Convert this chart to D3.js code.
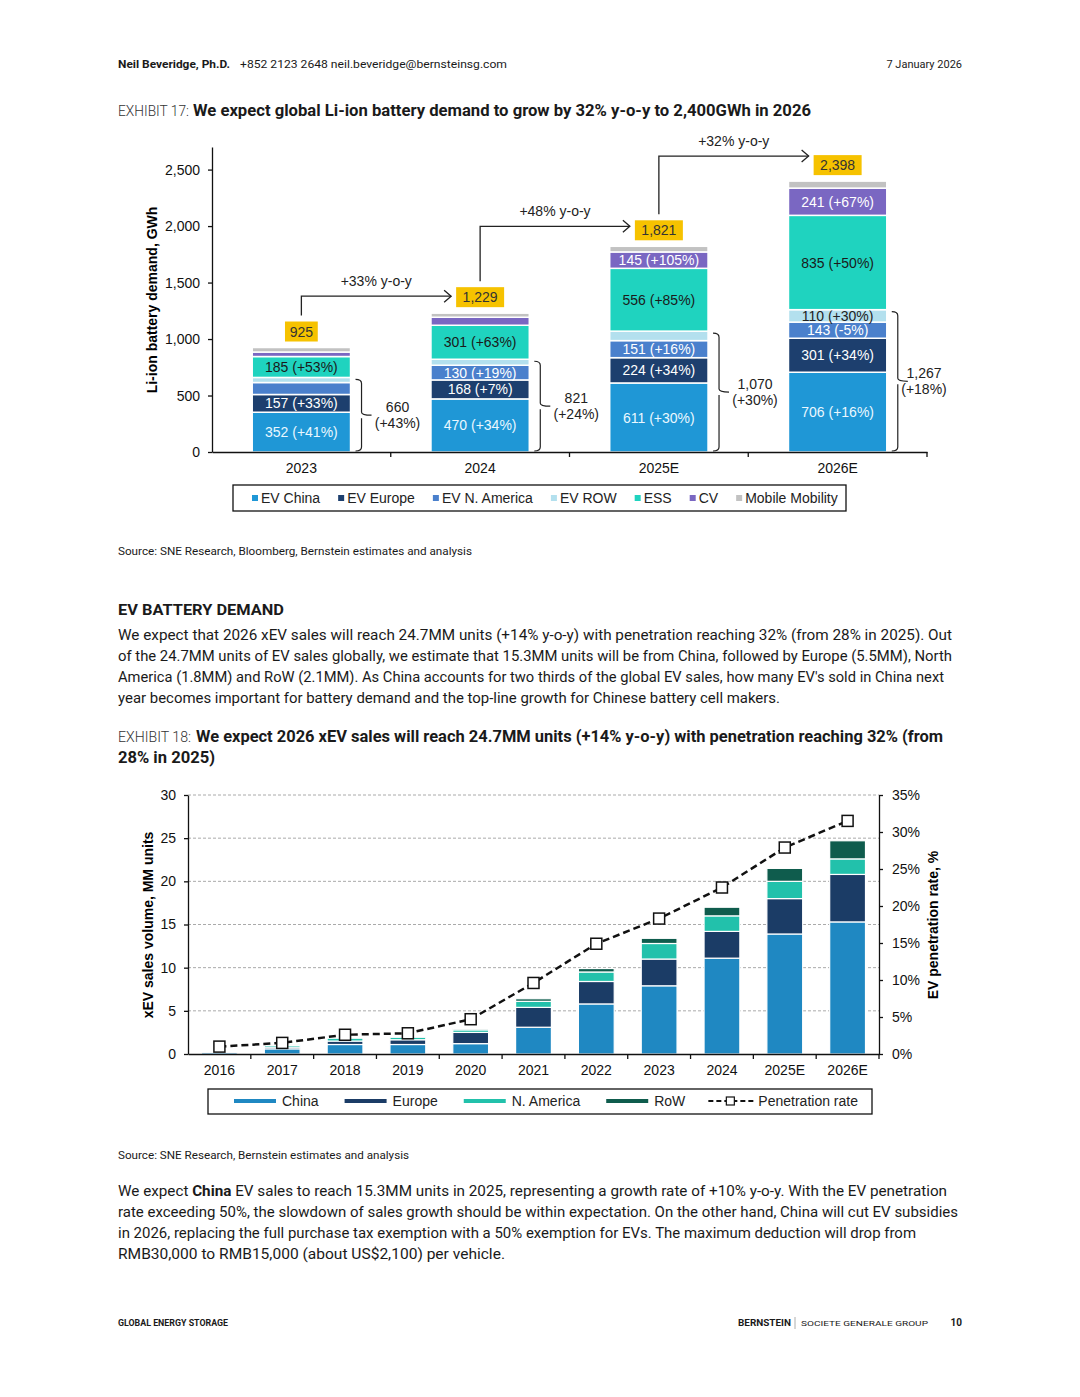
<!DOCTYPE html>
<html>
<head>
<meta charset="utf-8">
<script src="https://cdn.jsdelivr.net/npm/d3@7"></script>
<style>
  body { margin: 0; background: #fff; }
  svg { display: block; }
  .chart text { font-family: "Liberation Sans", Arial, sans-serif; }
  .page text { font-family: Roboto, "Liberation Sans", sans-serif; fill: #1a1a1a; }
</style>
</head>
<body>
<script>
// ---------- Exhibit 17 data (GWh) ----------
const years1 = ["2023", "2024", "2025E", "2026E"];
const keys1 = ["EV China", "EV Europe", "EV N. America", "EV ROW", "ESS", "CV", "Mobile Mobility"];
const evChina = [352, 470, 611, 706];
const evEurope = [157, 168, 224, 301];
const evNAmerica = [106, 130, 151, 143];
const evRow = [45, 53, 84, 110];
const ess = [185, 301, 556, 835];
const cv = [40, 71, 145, 241];
const mobile = [40, 36, 50, 62];
// growth labels shown inside segments (null = no label)
const chinaGrowth = ["+41%", "+34%", "+30%", "+16%"];
const europeGrowth = ["+33%", "+7%", "+34%", "+34%"];
const naGrowth = [null, "+19%", "+16%", "-5%"];
const rowGrowth = [null, null, null, "+30%"];
const essGrowth = ["+53%", "+63%", "+85%", "+50%"];
const cvGrowth = [null, null, "+105%", "+67%"];
const mobileGrowth = [null, null, null, null];
const totals1 = [925, 1229, 1821, 2398];
const yoyLabels = ["+33% y-o-y", "+48% y-o-y", "+32% y-o-y"];
const evTotalLabels = ["660", "821", "1,070", "1,267"];
const evTotalGrowth = ["+43%", "+24%", "+30%", "+18%"];
const yTicks1 = [0, 500, 1000, 1500, 2000, 2500];

// ---------- Exhibit 18 data (MM units, %) ----------
const years2 = ["2016", "2017", "2018", "2019", "2020", "2021", "2022", "2023", "2024", "2025E", "2026E"];
const keys2 = ["China", "Europe", "N. America", "RoW"];
const salesChina = [0.2, 0.6, 1.1, 1.1, 1.2, 3.1, 5.8, 7.9, 11.1, 13.9, 15.3];
const salesEurope = [0.05, 0.2, 0.4, 0.55, 1.3, 2.3, 2.6, 3.1, 3.1, 4.1, 5.5];
const salesNAmerica = [0.05, 0.2, 0.35, 0.3, 0.3, 0.7, 1.1, 1.8, 1.8, 2.0, 1.8];
const salesRow = [0.02, 0.05, 0.1, 0.1, 0.15, 0.3, 0.4, 0.6, 1.0, 1.5, 2.1];
const penetration = [1.0, 1.5, 2.6, 2.8, 4.7, 9.6, 14.9, 18.3, 22.5, 27.9, 31.5];
const yTicks2 = [0, 5, 10, 15, 20, 25, 30];
const yTicks2R = [0, 5, 10, 15, 20, 25, 30, 35];

const colors1 = ["#1f97d6", "#1d3f6e", "#4a80cc", "#b3e0ee", "#1fd3bf", "#7a67c2", "#c2c2c2"];
const labelColors1 = ["#eaf7ff", "#ffffff", "#ffffff", "#222", "#1a1a1a", "#ffffff", "#222"];
const colors2 = ["#1f88c2", "#1b3c66", "#22c1ab", "#0f5c4d"];
const FS = "14px";

const svg = d3.select("body").append("svg")
  .attr("width", 1080).attr("height", 1397);
svg.append("rect").attr("width", 1080).attr("height", 1397).attr("fill", "#fff");

// ---------- page text ----------
const page = svg.append("g").attr("class", "page");
function line(x, y, str, size, weight, len, opts) {
  opts = opts || {};
  const t = page.append("text").attr("x", x).attr("y", y)
    .style("font-size", size + "px").style("font-weight", weight || 400)
    .text(str);
  if (len) t.attr("textLength", len).attr("lengthAdjust", "spacingAndGlyphs");
  if (opts.anchor) t.attr("text-anchor", opts.anchor);
  if (opts.fill) t.style("fill", opts.fill);
  return t;
}

line(118, 68, "Neil Beveridge, Ph.D.", 11, 700, 112);
line(240, 68, "+852 2123 2648  neil.beveridge@bernsteinsg.com", 11, 400, 267);
line(962, 68, "7 January 2026", 11, 400, null, { anchor: "end" });

line(118, 116, "EXHIBIT 17:", 14, 300, 71, { fill: "#333" });
line(193, 116, "We expect global Li-ion battery demand to grow by 32% y-o-y to 2,400GWh in 2026", 16, 700, 618);

line(118, 555, "Source: SNE Research, Bloomberg, Bernstein estimates and analysis", 11, 400, 354);

line(118, 615, "EV BATTERY DEMAND", 15, 700, 166);
const para1 = [
  ["We expect that 2026 xEV sales will reach 24.7MM units (+14% y-o-y) with penetration reaching 32% (from 28% in 2025). Out", 834],
  ["of the 24.7MM units of EV sales globally, we estimate that 15.3MM units will be from China, followed by Europe (5.5MM), North", 834],
  ["America (1.8MM) and RoW (2.1MM). As China accounts for two thirds of the global EV sales, how many EV's sold in China next", 826],
  ["year becomes important for battery demand and the top-line growth for Chinese battery cell makers.", 662]
];
para1.forEach((p, i) => line(118, 640 + i * 21, p[0], 14.5, 400, p[1]));

line(118, 742, "EXHIBIT 18:", 14, 300, 73, { fill: "#333" });
line(196, 742, "We expect 2026 xEV sales will reach 24.7MM units (+14% y-o-y) with penetration reaching 32% (from", 16, 700, 747);
line(118, 763, "28% in 2025)", 16, 700, 97);

line(118, 1159, "Source: SNE Research, Bernstein estimates and analysis", 11, 400, 291);

const p2 = page.append("text").attr("x", 118).attr("y", 1196).style("font-size", "14.5px")
  .attr("textLength", 829).attr("lengthAdjust", "spacingAndGlyphs");
p2.append("tspan").text("We expect ");
p2.append("tspan").style("font-weight", 700).text("China");
p2.append("tspan").text(" EV sales to reach 15.3MM units in 2025, representing a growth rate of +10% y-o-y. With the EV penetration");
const para2 = [
  ["rate exceeding 50%, the slowdown of sales growth should be within expectation. On the other hand, China will cut EV subsidies", 840],
  ["in 2026, replacing the full purchase tax exemption with a 50% exemption for EVs. The maximum deduction will drop from", 798],
  ["RMB30,000 to RMB15,000 (about US$2,100) per vehicle.", 387]
];
para2.forEach((p, i) => line(118, 1217 + i * 21, p[0], 14.5, 400, p[1]));

line(118, 1326, "GLOBAL ENERGY STORAGE", 8.5, 700, 110);
line(738, 1326, "BERNSTEIN", 9, 700, 53);
page.append("line").attr("x1", 795).attr("x2", 795).attr("y1", 1317).attr("y2", 1329)
  .attr("stroke", "#999").attr("stroke-width", 0.8);
line(801, 1326, "SOCIETE GENERALE GROUP", 8, 400, 127);
line(962, 1326, "10", 10, 700, null, { anchor: "end" });

// ---------- Exhibit 17 chart ----------
const c1 = svg.append("g").attr("class", "chart");
const x1 = d3.scaleBand().domain(years1).range([212, 927]).paddingInner(0.45).paddingOuter(0.225);
const y1 = d3.scaleLinear().domain([0, 2700]).range([452, 147]);

const vals1 = [evChina, evEurope, evNAmerica, evRow, ess, cv, mobile];
const growth1 = [chinaGrowth, europeGrowth, naGrowth, rowGrowth, essGrowth, cvGrowth, mobileGrowth];
const rows1 = years1.map((yr, i) => {
  const o = { year: yr };
  keys1.forEach((k, j) => o[k] = vals1[j][i]);
  return o;
});
const stack1 = d3.stack().keys(keys1)(rows1);

stack1.forEach((s, j) => {
  const g = c1.append("g");
  g.selectAll("rect").data(s).join("rect")
    .attr("x", d => x1(d.data.year))
    .attr("y", d => y1(d[1]))
    .attr("width", x1.bandwidth())
    .attr("height", d => y1(d[0]) - y1(d[1]))
    .attr("fill", colors1[j])
    .attr("stroke", "#fff").attr("stroke-width", 1.5);
  g.selectAll("text").data(s.filter((d, i) => growth1[j][i]))
    .join("text")
    .attr("x", d => x1(d.data.year) + x1.bandwidth() / 2)
    .attr("y", d => (y1(d[0]) + y1(d[1])) / 2)
    .attr("dy", "0.36em")
    .attr("text-anchor", "middle")
    .style("font-size", FS)
    .style("fill", labelColors1[j])
    .text(d => d.data[keys1[j]] + " (" + growth1[j][years1.indexOf(d.data.year)] + ")");
});

// axes
const yAxis1 = c1.append("g").attr("transform", "translate(212,0)")
  .call(d3.axisLeft(y1).tickValues(yTicks1).tickFormat(d3.format(",")).tickSize(4).tickSizeOuter(0).tickPadding(8));
const xAxis1 = c1.append("g").attr("transform", "translate(0,452)")
  .call(d3.axisBottom(x1).tickSize(0).tickSizeOuter(0).tickPadding(11));
[yAxis1, xAxis1].forEach(a => {
  a.selectAll("text").style("font-size", FS).style("fill", "#111")
    .style("font-family", '"Liberation Sans", Arial, sans-serif');
  a.selectAll("path,line").attr("stroke", "#111").attr("stroke-width", 1.3);
});
c1.append("g").selectAll("line").data(years1).join("line")
  .attr("x1", d => x1(d) + x1.bandwidth() / 2 + x1.step() / 2)
  .attr("x2", d => x1(d) + x1.bandwidth() / 2 + x1.step() / 2)
  .attr("y1", 452).attr("y2", 457).attr("stroke", "#111").attr("stroke-width", 1.3);

c1.append("text")
  .attr("transform", "translate(157,300) rotate(-90)")
  .attr("text-anchor", "middle")
  .style("font-size", FS).style("font-weight", 700)
  .text("Li-ion battery demand, GWh");

// total boxes
const cx1 = d => x1(d) + x1.bandwidth() / 2;
const boxY = totals1.map(t => y1(t) - 16);
const boxW = t => d3.format(",")(t).length * 7.6 + 10;
totals1.forEach((t, i) => {
  const w = boxW(t);
  c1.append("rect").attr("x", cx1(years1[i]) - w / 2).attr("y", boxY[i] - 10)
    .attr("width", w).attr("height", 20).attr("fill", "#f6c200");
  c1.append("text").attr("x", cx1(years1[i])).attr("y", boxY[i]).attr("dy", "0.36em")
    .attr("text-anchor", "middle").style("font-size", FS).style("fill", "#333").text(d3.format(",")(t));
});

// y-o-y arrows (horizontal run sits a little above the target box centre)
const arrowLift = [1, 4, 9];
yoyLabels.forEach((lab, i) => {
  const xs = cx1(years1[i]);
  const xe = cx1(years1[i + 1]) - boxW(totals1[i + 1]) / 2 - 5;
  const ye = boxY[i + 1] - arrowLift[i];
  const ys = boxY[i] - 16;
  c1.append("path")
    .attr("d", `M${xs},${ys} V${ye} H${xe}`)
    .attr("fill", "none").attr("stroke", "#222").attr("stroke-width", 1.3);
  c1.append("path")
    .attr("d", `M${xe - 7},${ye - 6} L${xe},${ye} L${xe - 7},${ye + 6}`)
    .attr("fill", "none").attr("stroke", "#222").attr("stroke-width", 1.3);
  c1.append("text").attr("x", (xs + xe) / 2).attr("y", ye - 15).attr("dy", "0.36em")
    .attr("text-anchor", "middle").style("font-size", FS).style("fill", "#222").text(lab);
});

// EV brackets
const evTop = years1.map((yr, i) => evChina[i] + evEurope[i] + evNAmerica[i] + evRow[i]);
evTop.forEach((v, i) => {
  const xb = x1(years1[i]) + x1.bandwidth() + 11;
  const yt = y1(v) + 2, yb = y1(0) - 1, ym = (yt + yb) / 2;
  c1.append("path")
    .attr("d", `M${xb - 6},${yt} Q${xb},${yt} ${xb},${yt + 4} V${ym - 3} Q${xb},${ym} ${xb + 10},${ym} M${xb},${ym + 3} V${yb - 4} Q${xb},${yb} ${xb - 6},${yb}`)
    .attr("fill", "none").attr("stroke", "#222").attr("stroke-width", 1.2);
  const tx = Math.min(xb + 36, 924);
  c1.append("text").attr("x", tx).attr("y", ym - 8).attr("dy", "0.36em")
    .attr("text-anchor", "middle").style("font-size", FS).style("fill", "#222").text(evTotalLabels[i]);
  c1.append("text").attr("x", tx).attr("y", ym + 8).attr("dy", "0.36em")
    .attr("text-anchor", "middle").style("font-size", FS).style("fill", "#222").text("(" + evTotalGrowth[i] + ")");
});

// legend 1
c1.append("rect").attr("x", 233).attr("y", 485).attr("width", 613).attr("height", 26)
  .attr("fill", "none").attr("stroke", "#111").attr("stroke-width", 1.3);
let lx = 252;
keys1.forEach((k, j) => {
  c1.append("rect").attr("x", lx).attr("y", 495).attr("width", 6).attr("height", 6).attr("fill", colors1[j]);
  const t = c1.append("text").attr("x", lx + 9).attr("y", 498).attr("dy", "0.36em")
    .style("font-size", FS).style("fill", "#222").text(k);
  lx += 9 + t.node().getComputedTextLength() + 18;
});

// ---------- Exhibit 18 chart ----------
const c2 = svg.append("g").attr("class", "chart");
const x2 = d3.scaleBand().domain(years2).range([188, 879]).paddingInner(0.43).paddingOuter(0.215);
const y2 = d3.scaleLinear().domain([0, 30]).range([1054, 795]);
const y2r = d3.scaleLinear().domain([0, 35]).range([1054, 795]);

// gridlines
c2.append("g").selectAll("line").data(yTicks2.filter(d => d > 0)).join("line")
  .attr("x1", 188).attr("x2", 879)
  .attr("y1", d => y2(d)).attr("y2", d => y2(d))
  .attr("stroke", "#aaa").attr("stroke-width", 1).attr("stroke-dasharray", "3,2");

const vals2 = [salesChina, salesEurope, salesNAmerica, salesRow];
const rows2 = years2.map((yr, i) => {
  const o = { year: yr };
  keys2.forEach((k, j) => o[k] = vals2[j][i]);
  return o;
});
const stack2 = d3.stack().keys(keys2)(rows2);
stack2.forEach((s, j) => {
  c2.append("g").selectAll("rect").data(s).join("rect")
    .attr("x", d => x2(d.data.year))
    .attr("y", d => y2(d[1]))
    .attr("width", x2.bandwidth())
    .attr("height", d => Math.max(0, y2(d[0]) - y2(d[1])))
    .attr("fill", colors2[j])
    .attr("stroke", "#fff").attr("stroke-width", 1.2);
});

const yAxis2 = c2.append("g").attr("transform", "translate(188,0)")
  .call(d3.axisLeft(y2).tickValues(yTicks2).tickSize(4).tickSizeOuter(0).tickPadding(8));
const yAxis2r = c2.append("g").attr("transform", "translate(879,0)")
  .call(d3.axisRight(y2r).tickValues(yTicks2R).tickFormat(d => d + "%").tickSize(4).tickSizeOuter(0).tickPadding(9));
const xAxis2 = c2.append("g").attr("transform", "translate(0,1054)")
  .call(d3.axisBottom(x2).tickSize(0).tickSizeOuter(0).tickPadding(11));
[yAxis2, yAxis2r, xAxis2].forEach(a => {
  a.selectAll("text").style("font-size", FS).style("fill", "#111")
    .style("font-family", '"Liberation Sans", Arial, sans-serif');
  a.selectAll("path,line").attr("stroke", "#111").attr("stroke-width", 1.3);
});
c2.append("g").selectAll("line").data(years2).join("line")
  .attr("x1", d => x2(d) + x2.bandwidth() / 2 + x2.step() / 2)
  .attr("x2", d => x2(d) + x2.bandwidth() / 2 + x2.step() / 2)
  .attr("y1", 1054).attr("y2", 1059).attr("stroke", "#111").attr("stroke-width", 1.3);

c2.append("text").attr("transform", "translate(153,925) rotate(-90)")
  .attr("text-anchor", "middle").style("font-size", FS).style("font-weight", 700)
  .text("xEV sales volume, MM units");
c2.append("text").attr("transform", "translate(938,925) rotate(-90)")
  .attr("text-anchor", "middle").style("font-size", FS).style("font-weight", 700)
  .text("EV penetration rate, %");

// penetration line
const cx2 = d => x2(d) + x2.bandwidth() / 2;
c2.append("path").datum(penetration)
  .attr("d", d3.line().x((d, i) => cx2(years2[i])).y(d => y2r(d)))
  .attr("fill", "none").attr("stroke", "#111").attr("stroke-width", 2.5).attr("stroke-dasharray", "7,4");
c2.append("g").selectAll("rect").data(penetration).join("rect")
  .attr("x", (d, i) => cx2(years2[i]) - 5.5).attr("y", d => y2r(d) - 5.5)
  .attr("width", 11).attr("height", 11)
  .attr("fill", "#fff").attr("stroke", "#111").attr("stroke-width", 1.5);

// legend 2
c2.append("rect").attr("x", 208).attr("y", 1089).attr("width", 664).attr("height", 25)
  .attr("fill", "none").attr("stroke", "#111").attr("stroke-width", 1.3);
let lx2 = 234;
keys2.forEach((k, j) => {
  c2.append("line").attr("x1", lx2).attr("x2", lx2 + 42).attr("y1", 1101).attr("y2", 1101)
    .attr("stroke", colors2[j]).attr("stroke-width", 4);
  const t = c2.append("text").attr("x", lx2 + 48).attr("y", 1101).attr("dy", "0.36em")
    .style("font-size", FS).style("fill", "#222").text(k);
  lx2 += 48 + t.node().getComputedTextLength() + 26;
});
lx2 -= 3;
c2.append("line").attr("x1", lx2).attr("x2", lx2 + 45).attr("y1", 1101).attr("y2", 1101)
  .attr("stroke", "#111").attr("stroke-width", 2).attr("stroke-dasharray", "5,3");
c2.append("rect").attr("x", lx2 + 18).attr("y", 1097).attr("width", 8).attr("height", 8)
  .attr("fill", "#fff").attr("stroke", "#111").attr("stroke-width", 1.2);
c2.append("text").attr("x", lx2 + 50).attr("y", 1101).attr("dy", "0.36em")
  .style("font-size", FS).style("fill", "#222").text("Penetration rate");
</script>
</body>
</html>
